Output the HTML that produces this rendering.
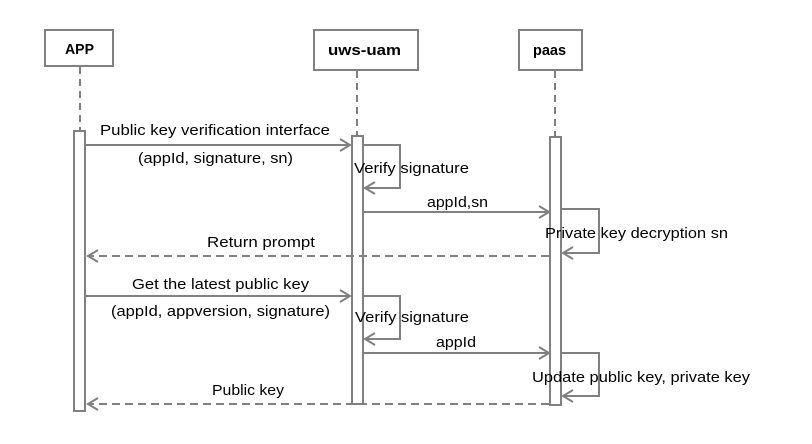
<!DOCTYPE html>
<html><head><meta charset="utf-8"><style>
html,body{margin:0;padding:0;background:#fff;}
svg{display:block;}
text{font-family:"Liberation Sans",sans-serif;font-size:15px;fill:#000;}
</style></head><body>
<svg width="812" height="444" viewBox="0 0 812 444" xmlns="http://www.w3.org/2000/svg">
<g stroke="#808080" stroke-width="2" fill="none">
<rect x="45" y="30" width="68" height="36" fill="#fff"/>
<rect x="314" y="30" width="104" height="40" fill="#fff"/>
<rect x="519" y="30" width="63" height="40" fill="#fff"/>
<line x1="80" y1="67" x2="80" y2="131" stroke-dasharray="7,5"/>
<line x1="357" y1="71" x2="357" y2="136" stroke-dasharray="7,5"/>
<line x1="555" y1="71" x2="555" y2="137" stroke-dasharray="7,5"/>
<rect x="74" y="131" width="11" height="280" fill="#fff"/>
<rect x="352" y="136" width="11" height="268" fill="#fff"/>
<rect x="550" y="137" width="11" height="268" fill="#fff"/>
<line x1="85" y1="145" x2="350" y2="145"/>
<polyline points="340,139 350,145 340,151"/>
<polyline points="363,145 400,145 400,188 365,188"/>
<polyline points="375,182 365,188 375,194"/>
<line x1="363" y1="212" x2="549" y2="212"/>
<polyline points="539,206 549,212 539,218"/>
<polyline points="561,209 599,209 599,253 563,253"/>
<polyline points="573,247 563,253 573,259"/>
<line x1="549" y1="256" x2="88" y2="256" stroke-dasharray="8,5"/>
<polyline points="98,250 88,256 98,262"/>
<line x1="85" y1="296" x2="350" y2="296"/>
<polyline points="340,290 350,296 340,302"/>
<polyline points="363,296 400,296 400,339 365,339"/>
<polyline points="375,333 365,339 375,345"/>
<line x1="363" y1="353" x2="549" y2="353"/>
<polyline points="539,347 549,353 539,359"/>
<polyline points="561,353 599,353 599,396 563,396"/>
<polyline points="573,390 563,396 573,402"/>
<line x1="549" y1="404" x2="88" y2="404" stroke-dasharray="8,5"/>
<polyline points="98,398 88,404 98,410"/>
</g>
<g font-weight="bold" style="font-size:14px">
<text x="65" y="54" textLength="29" lengthAdjust="spacingAndGlyphs">APP</text>
<text x="328" y="55" textLength="73" lengthAdjust="spacingAndGlyphs">uws-uam</text>
<text x="533" y="55" textLength="33" lengthAdjust="spacingAndGlyphs">paas</text>
</g>
<text x="100" y="135" textLength="230" lengthAdjust="spacingAndGlyphs">Public key verification interface</text>
<text x="138" y="163" textLength="155" lengthAdjust="spacingAndGlyphs">(appId, signature, sn)</text>
<text x="354" y="173" textLength="115" lengthAdjust="spacingAndGlyphs">Verify signature</text>
<text x="427" y="207" textLength="61" lengthAdjust="spacingAndGlyphs">appId,sn</text>
<text x="545" y="238" textLength="183" lengthAdjust="spacingAndGlyphs">Private key decryption sn</text>
<text x="207" y="247" textLength="108" lengthAdjust="spacingAndGlyphs">Return prompt</text>
<text x="132" y="289" textLength="177" lengthAdjust="spacingAndGlyphs">Get the latest public key</text>
<text x="111" y="316" textLength="219" lengthAdjust="spacingAndGlyphs">(appId, appversion, signature)</text>
<text x="355" y="322" textLength="114" lengthAdjust="spacingAndGlyphs">Verify signature</text>
<text x="436" y="347" textLength="40" lengthAdjust="spacingAndGlyphs">appId</text>
<text x="532" y="382" textLength="218" lengthAdjust="spacingAndGlyphs">Update public key, private key</text>
<text x="212" y="395" textLength="72" lengthAdjust="spacingAndGlyphs">Public key</text>
</svg>
</body></html>
